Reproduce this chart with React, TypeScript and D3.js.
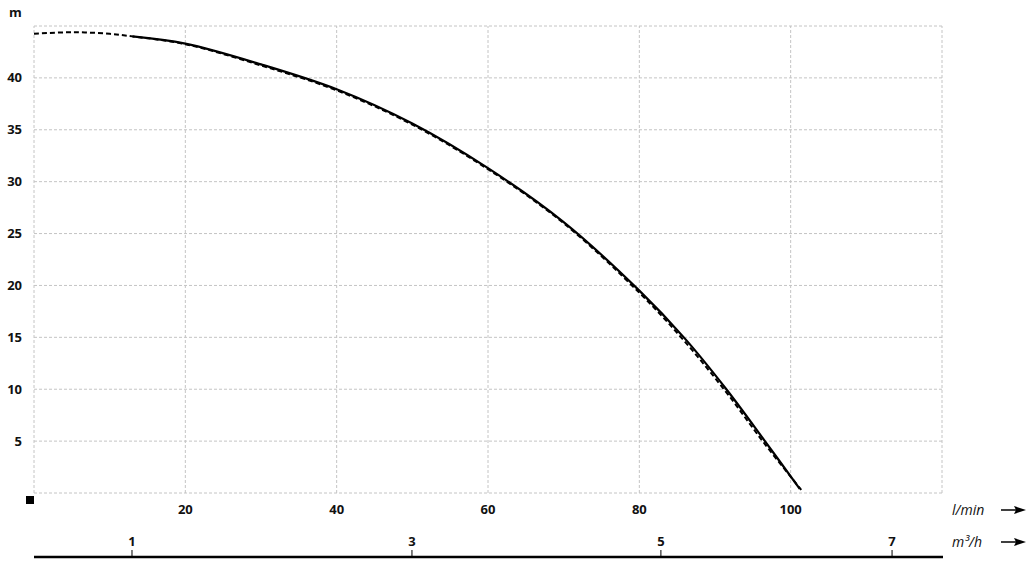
import React, { useEffect, useRef } from 'react';
import * as d3 from 'd3';

// pump curve, flow in l/min vs head in m
const flowSolid = [13, 20, 30, 40, 50, 60, 70, 80, 86, 91.5, 96.5, 101.2];
const headSolid = [44.0, 43.3, 41.3, 38.9, 35.6, 31.3, 26.1, 19.5, 14.9, 10.0, 5.1, 0.4];
const flowDashed = [0, 5, 10, 13, 20, 30, 40, 50, 60, 70, 80, 86, 91.5, 96.5, 101.4];
const headDashed = [44.25, 44.4, 44.25, 44.0, 43.25, 41.2, 38.8, 35.5, 31.2, 26.0, 19.3, 14.6, 9.7, 4.8, 0.3];

const lminTicks = [20, 40, 60, 80, 100];
const headTicks = [5, 10, 15, 20, 25, 30, 35, 40];
const gridX = [0, 20, 40, 60, 80, 100, 120];
const gridY = [0, 5, 10, 15, 20, 25, 30, 35, 40, 45];
// m3/h tick labels and where they sit on the l/min scale
const m3hLabels = ['1', '3', '5', '7'];
const m3hAtLmin = [12.95, 49.95, 82.85, 113.4];

const App = () => {
  const ref = useRef<SVGSVGElement>(null);

  useEffect(() => {
    const svg = d3.select(ref.current);
    svg.selectAll('*').remove();

    const width = 1036, height = 570;
    const margin = { left: 34, right: 94, top: 26, bottom: 77 };
    const x = d3.scaleLinear().domain([0, 120]).range([margin.left, width - margin.right]);
    const y = d3.scaleLinear().domain([0, 45]).range([height - margin.bottom, margin.top]);
    const font = "'Open Sans', 'DejaVu Sans', sans-serif";
    const gridColor = '#c4c4c4';

    svg.append('rect').attr('width', width).attr('height', height).attr('fill', '#fff');

    // Grid lines
    svg.append('g').selectAll('line').data(gridX).join('line')
      .attr('x1', d => x(d)).attr('x2', d => x(d))
      .attr('y1', y(0)).attr('y2', y(45))
      .attr('stroke', gridColor).attr('stroke-width', 1).attr('stroke-dasharray', '3,2');
    svg.append('g').selectAll('line').data(gridY).join('line')
      .attr('x1', x(0)).attr('x2', x(120))
      .attr('y1', d => y(d)).attr('y2', d => y(d))
      .attr('stroke', gridColor).attr('stroke-width', 1).attr('stroke-dasharray', '3,2');

    // Y tick labels
    svg.append('g').selectAll('text').data(headTicks).join('text')
      .attr('x', 22).attr('y', d => y(d)).attr('dy', '0.35em')
      .attr('text-anchor', 'end').attr('font-family', font).attr('font-weight', 700)
      .attr('font-size', 13).attr('fill', '#111').text(d => d);
    svg.append('text').attr('x', 9).attr('y', 17).attr('font-family', font)
      .attr('font-weight', 700).attr('font-size', 13).attr('fill', '#111').text('m');

    // small origin marker
    svg.append('rect').attr('x', x(0) - 8).attr('y', y(0) + 3).attr('width', 8).attr('height', 8).attr('fill', '#000');

    // l/min tick labels
    svg.append('g').selectAll('text').data(lminTicks).join('text')
      .attr('x', d => x(d)).attr('y', 509).attr('dy', '0.35em')
      .attr('text-anchor', 'middle').attr('font-family', font).attr('font-weight', 700)
      .attr('font-size', 13).attr('fill', '#111').text(d => d);

    // m3/h axis
    const axisY = 557;
    svg.append('line').attr('x1', x(0)).attr('x2', x(120) + 1).attr('y1', axisY).attr('y2', axisY)
      .attr('stroke', '#000').attr('stroke-width', 2.5);
    const m3h = svg.append('g').selectAll('g').data(m3hLabels).join('g')
      .attr('transform', (d, i) => `translate(${x(m3hAtLmin[i])},0)`);
    m3h.append('line').attr('y1', axisY - 7).attr('y2', axisY).attr('stroke', '#000').attr('stroke-width', 1);
    m3h.append('text').attr('y', 541).attr('dy', '0.35em').attr('text-anchor', 'middle')
      .attr('font-family', font).attr('font-weight', 700).attr('font-size', 13).attr('fill', '#111').text(d => d);

    // unit labels with arrows
    const units = [{ y: 510, label: 'l/min' }, { y: 542, label: 'm³/h' }];
    units.forEach(u => {
      svg.append('text').attr('x', 952).attr('y', u.y).attr('dy', '0.35em')
        .attr('font-family', font).attr('font-style', 'italic').attr('font-size', 14)
        .attr('fill', '#111').text(u.label);
      svg.append('line').attr('x1', 1001).attr('x2', 1018).attr('y1', u.y).attr('y2', u.y)
        .attr('stroke', '#000').attr('stroke-width', 1.5);
      svg.append('path').attr('d', `M1026,${u.y} L1014,${u.y - 4} L1016,${u.y} L1014,${u.y + 4} Z`).attr('fill', '#000');
    });

    const dashedPts = flowDashed.map((f, i) => [x(f), y(headDashed[i])] as [number, number]);
    const solidPts = flowSolid.map((f, i) => [x(f), y(headSolid[i])] as [number, number]);
    const curve = d3.line().curve(d3.curveCatmullRom.alpha(0.5));

    svg.append('path').attr('d', curve(dashedPts))
      .attr('fill', 'none').attr('stroke', '#000').attr('stroke-width', 2)
      .attr('stroke-dasharray', '5,3');
    svg.append('path').attr('d', curve(solidPts))
      .attr('fill', 'none').attr('stroke', '#000').attr('stroke-width', 2.2);
  }, []);

  return (
    <svg ref={ref} width={1036} height={570}
      style={{ position: 'absolute', left: 0, top: 0, display: 'block' }} />
  );
};

export default App;
